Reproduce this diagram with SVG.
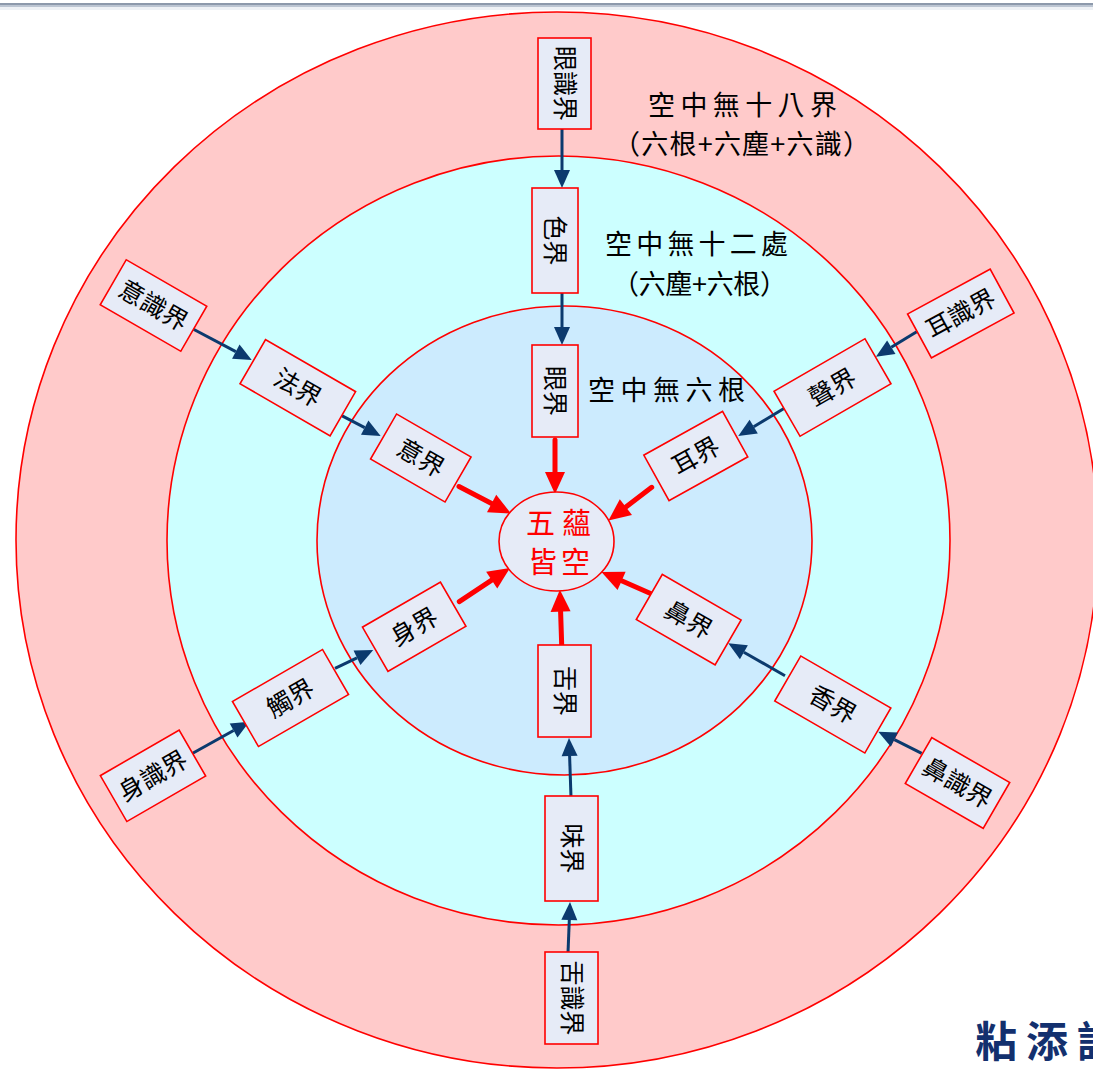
<svg xmlns="http://www.w3.org/2000/svg" width="1093" height="1069" viewBox="0 0 1093 1069">
<style>
.box{fill:#e6ebf7;stroke:#ff0000;stroke-width:1.6}
.bt{font-family:"Noto Sans CJK TC","Noto Sans CJK SC",sans-serif;font-size:25px;fill:#000;text-anchor:middle}
.lbl{font-family:"Noto Sans CJK TC","Noto Sans CJK SC",serif;font-size:27px;fill:#000}
.blue{stroke:#0b3a6e;stroke-width:3;fill:none;marker-end:url(#ab)}
.red{stroke:#ff0000;stroke-width:5;fill:none;stroke-linecap:round;marker-end:url(#ar)}
</style>
<defs>
<marker id="ab" markerUnits="userSpaceOnUse" markerWidth="18" markerHeight="16" refX="0" refY="8" orient="auto" overflow="visible"><path d="M0,0 L18,8 L0,16 z" fill="#0b3a6e"/></marker>
<marker id="ar" markerUnits="userSpaceOnUse" markerWidth="22" markerHeight="20" refX="0" refY="10" orient="auto" overflow="visible"><path d="M0,0 L22,10 L0,20 z" fill="#ff0000"/></marker>
</defs>
<rect x="0" y="0" width="1093" height="1069" fill="#ffffff"/>
<rect x="0" y="3" width="1093" height="2" fill="#8d99ab"/>
<rect x="0" y="5" width="1093" height="2" fill="#bcc5d2"/>
<rect x="0" y="7" width="1093" height="3" fill="#eef1f5"/>
<g id="rings">
<ellipse cx="557" cy="540" rx="541" ry="528" fill="#ffcaca" stroke="#ff0000" stroke-width="1.6"/>
<ellipse cx="558.5" cy="540.5" rx="391.5" ry="384.5" fill="#ccffff" stroke="#ff0000" stroke-width="1.6"/>
<ellipse cx="564.5" cy="540.5" rx="247.5" ry="234.5" fill="#ccebfe" stroke="#ff0000" stroke-width="1.6"/>
</g>
<g id="labels">
<text class="lbl" x="648" y="115" textLength="189" lengthAdjust="spacing">空中無十八界</text>
<text class="lbl" x="613" y="154" textLength="257" lengthAdjust="spacing">（六根+六塵+六識）</text>
<text class="lbl" x="605" y="254" textLength="183" lengthAdjust="spacing">空中無十二處</text>
<text class="lbl" x="612" y="294" textLength="175" lengthAdjust="spacing">（六塵+六根）</text>
<text class="lbl" x="588" y="400" textLength="157" lengthAdjust="spacing">空中無六根</text>
</g>
<g id="connectors">
<line class="blue" x1="562" y1="129" x2="562" y2="170"/>
<line class="blue" x1="562" y1="293" x2="562" y2="327"/>
<line class="blue" x1="193" y1="329" x2="235.8" y2="351.6"/>
<line class="blue" x1="341.7" y1="415.7" x2="364.7" y2="427.7"/>
<line class="blue" x1="916.7" y1="331.7" x2="891.3" y2="347.3"/>
<line class="blue" x1="786" y1="407.3" x2="753.7" y2="426.7"/>
<line class="blue" x1="192.7" y1="753.3" x2="233.6" y2="730.5"/>
<line class="blue" x1="335" y1="668.3" x2="357" y2="657.8"/>
<line class="blue" x1="785" y1="675.7" x2="743.9" y2="652.2"/>
<line class="blue" x1="921.7" y1="753.3" x2="894.4" y2="739.7"/>
<line class="blue" x1="571" y1="797" x2="569.6" y2="756"/>
<line class="blue" x1="568" y1="953" x2="569.3" y2="920"/>
<line class="red" x1="555" y1="440" x2="555" y2="472"/>
<line class="red" x1="561.7" y1="645" x2="560.6" y2="611.7"/>
<line class="red" x1="459" y1="486.5" x2="491.6" y2="503.5"/>
<line class="red" x1="651.7" y1="487.3" x2="625.9" y2="507.1"/>
<line class="red" x1="459.3" y1="601.7" x2="491.7" y2="580.1"/>
<line class="red" x1="651.7" y1="594" x2="621.6" y2="580.8"/>
</g>
<g id="center">
<ellipse cx="556.5" cy="541.5" rx="57.5" ry="49.5" fill="#e6ebf7" stroke="#ff0000" stroke-width="1.6"/>
<text x="526" y="534" textLength="65" lengthAdjust="spacing" font-family="Noto Sans CJK TC, Noto Sans CJK SC, serif" font-size="29" fill="#ff0000">五蘊</text>
<text x="528" y="573" textLength="62" lengthAdjust="spacing" font-family="Noto Sans CJK TC, Noto Sans CJK SC, serif" font-size="29" fill="#ff0000">皆空</text>
</g>
<g id="eye-consciousness" transform="translate(564.5,83.5) rotate(90)"><rect class="box" x="-45.5" y="-26.5" width="91" height="53"/><text class="bt" y="9">眼識界</text></g>
<g id="form" transform="translate(555,240.5) rotate(90)"><rect class="box" x="-52.5" y="-23" width="105" height="46"/><text class="bt" y="9">色界</text></g>
<g id="eye" transform="translate(555,391) rotate(90)"><rect class="box" x="-46" y="-23" width="92" height="46"/><text class="bt" y="9">眼界</text></g>
<g id="tongue" transform="translate(564.5,691) rotate(90)"><rect class="box" x="-46" y="-26.5" width="92" height="53"/><text class="bt" y="9">舌界</text></g>
<g id="taste" transform="translate(571.5,848.5) rotate(90)"><rect class="box" x="-52.5" y="-26.5" width="105" height="53"/><text class="bt" y="9">味界</text></g>
<g id="tongue-consciousness" transform="translate(571.5,998) rotate(90)"><rect class="box" x="-46" y="-26.5" width="92" height="53"/><text class="bt" y="9">舌識界</text></g>
<g id="mind-consciousness" transform="translate(153.5,305.5) rotate(30)"><rect class="box" x="-46.5" y="-26" width="93" height="52"/><text class="bt" y="9">意識界</text></g>
<g id="dharma" transform="translate(297.8,387.7) rotate(30)"><rect class="box" x="-52" y="-25.5" width="104" height="51"/><text class="bt" y="9">法界</text></g>
<g id="mind" transform="translate(420.8,458) rotate(30)"><rect class="box" x="-43" y="-26" width="86" height="52"/><text class="bt" y="9">意界</text></g>
<g id="ear-consciousness" transform="translate(960.8,313.5) rotate(-28.5)"><rect class="box" x="-47" y="-25" width="94" height="50"/><text class="bt" y="9">耳識界</text></g>
<g id="sound" transform="translate(832.5,387.5) rotate(-30)"><rect class="box" x="-52.5" y="-26" width="105" height="52"/><text class="bt" y="9">聲界</text></g>
<g id="ear" transform="translate(695.8,456) rotate(-29)"><rect class="box" x="-45" y="-26" width="90" height="52"/><text class="bt" y="9">耳界</text></g>
<g id="body-consciousness" transform="translate(153,775.8) rotate(-30)"><rect class="box" x="-45.5" y="-26.5" width="91" height="53"/><text class="bt" y="9">身識界</text></g>
<g id="touch" transform="translate(290.5,698) rotate(-30)"><rect class="box" x="-52" y="-26" width="104" height="52"/><text class="bt" y="9">觸界</text></g>
<g id="body" transform="translate(414.2,626.7) rotate(-30)"><rect class="box" x="-45" y="-25.5" width="90" height="51"/><text class="bt" y="9">身界</text></g>
<g id="nose" transform="translate(688.7,619.7) rotate(30)"><rect class="box" x="-45.5" y="-26" width="91" height="52"/><text class="bt" y="9">鼻界</text></g>
<g id="smell" transform="translate(832.8,704.5) rotate(30)"><rect class="box" x="-52" y="-26" width="104" height="52"/><text class="bt" y="9">香界</text></g>
<g id="nose-consciousness" transform="translate(957.5,783) rotate(30)"><rect class="box" x="-45" y="-26.5" width="90" height="53"/><text class="bt" y="9">鼻識界</text></g>
<text x="975" y="1057" font-family="Noto Sans CJK TC, Noto Sans CJK SC, serif" font-size="42" font-weight="bold" fill="#13306e" letter-spacing="9">粘添語</text>
</svg>
